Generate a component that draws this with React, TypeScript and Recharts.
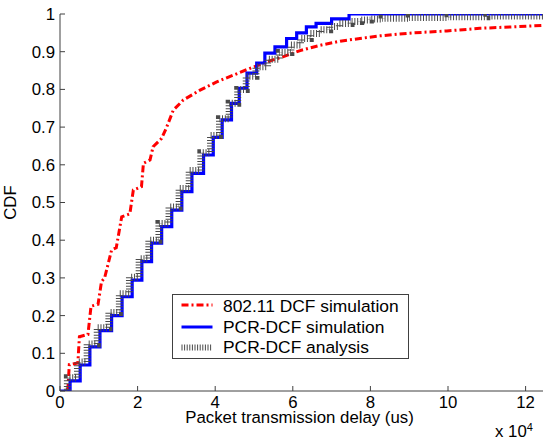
import React from 'react';
import { LineChart, Line, XAxis, YAxis, Legend } from 'recharts';

const FONT = '"Liberation Sans", Arial, Helvetica, sans-serif';

const xTicks = [0, 2, 4, 6, 8, 10, 12];
const yTicks = [0, 0.1, 0.2, 0.3, 0.4, 0.5, 0.6, 0.7, 0.8, 0.9, 1];

const seriesNames = ['802.11 DCF simulation', 'PCR-DCF simulation', 'PCR-DCF analysis'];

// 802.11 DCF simulation (x in units of 10^4 us)
const dcfX = [0.2, 0.24, 0.46, 0.5, 0.72, 0.8, 0.98, 1.07, 1.15, 1.33, 1.45, 1.59, 1.8, 1.89, 2.1, 2.15, 2.32, 2.4, 2.62, 2.75, 2.92, 3.18, 3.61, 4.04, 4.47, 4.9, 5.33, 5.76, 6.19, 6.7, 7.22, 7.73, 8.25, 9.1, 9.97, 10.82, 11.68, 12.5];
const dcfY = [0, 0.07, 0.074, 0.144, 0.15, 0.225, 0.23, 0.29, 0.3, 0.374, 0.38, 0.462, 0.47, 0.533, 0.542, 0.604, 0.613, 0.648, 0.67, 0.7, 0.745, 0.772, 0.798, 0.82, 0.838, 0.856, 0.873, 0.887, 0.903, 0.917, 0.928, 0.935, 0.942, 0.95, 0.955, 0.962, 0.966, 0.97];

// PCR-DCF simulation (step function)
const simX = [0, 0.26, 0.52, 0.77, 1.03, 1.33, 1.6, 1.86, 2.11, 2.36, 2.62, 2.88, 3.14, 3.4, 3.7, 3.95, 4.18, 4.42, 4.62, 4.82, 5.07, 5.28, 5.54, 5.84, 6.1, 6.35, 6.6, 7.0, 7.45, 12.5];
const simY = [0, 0.027, 0.069, 0.117, 0.16, 0.2, 0.25, 0.294, 0.343, 0.392, 0.436, 0.48, 0.529, 0.577, 0.626, 0.673, 0.719, 0.763, 0.803, 0.843, 0.87, 0.896, 0.913, 0.935, 0.95, 0.966, 0.975, 0.987, 1.0, 1.0];

// PCR-DCF analysis (step function)
const anaX = [0.15, 0.19, 0.45, 0.7, 0.96, 1.26, 1.53, 1.79, 2.04, 2.29, 2.55, 2.81, 3.07, 3.33, 3.63, 3.88, 4.11, 4.36, 4.58, 4.8, 5.05, 5.35, 5.65, 5.95, 6.2, 6.45, 6.7, 6.95, 7.2, 7.5, 7.75, 8.0, 8.3, 9.0, 10.0, 11.0, 12.5];
const anaY = [0, 0.035, 0.077, 0.125, 0.168, 0.208, 0.258, 0.302, 0.351, 0.4, 0.444, 0.488, 0.537, 0.585, 0.632, 0.678, 0.722, 0.763, 0.8, 0.835, 0.86, 0.88, 0.898, 0.918, 0.935, 0.948, 0.958, 0.967, 0.975, 0.98, 0.984, 0.987, 0.989, 0.991, 0.993, 0.995, 0.996];

const rows = (xs: number[], ys: number[]) => xs.map((x, i) => ({ x, y: ys[i] }));

const dcfData = rows(dcfX, dcfY);
const simData = rows(simX, simY);
const anaData = rows(anaX, anaY);

const AXIS_COLOR = '#404040';
const AXIS_FONT = 16.8;
const tickStyle = { fill: '#000', fontSize: AXIS_FONT, fontFamily: FONT };

const HATCH_COLOR = '#4a4a4a';

const LegendBox = () => (
  <svg width={238} height={66} style={{ display: 'block' }}>
    <rect x={0.5} y={0.5} width={236} height={64} fill="#fff" stroke={AXIS_COLOR} strokeWidth={1} />
    <line x1={9.5} y1={11} x2={40.5} y2={11} stroke="#ff0000" strokeWidth={3} strokeDasharray="7 3 2 3" />
    <line x1={9.5} y1={33} x2={40.5} y2={33} stroke="#0000ff" strokeWidth={3} />
    <line x1={9.5} y1={53.5} x2={40.5} y2={53.5} stroke={HATCH_COLOR} strokeWidth={6} strokeDasharray="1 1.6" />
    <text x={51} y={17.7} fontSize={17.4} fontFamily={FONT} fill="#000">{seriesNames[0]}</text>
    <text x={51} y={39.3} fontSize={17.4} fontFamily={FONT} fill="#000">{seriesNames[1]}</text>
    <text x={51} y={58.9} fontSize={17.4} fontFamily={FONT} fill="#000">{seriesNames[2]}</text>
  </svg>
);

const XLabel = (props: any) => {
  const vb = props.viewBox || { x: 60, y: 391, width: 485, height: 48 };
  const cx = vb.x + vb.width / 2 - 3;
  return (
    <g>
      <text x={cx} y={vb.y + 32} textAnchor="middle" fontSize={AXIS_FONT} fontFamily={FONT} fill="#000">
        Packet transmission delay (us)
      </text>
      <text x={vb.x + vb.width - 50} y={vb.y + 46} fontSize={AXIS_FONT} fontFamily={FONT} fill="#000">
        x 10
        <tspan fontSize={11} dy={-6}>4</tspan>
      </text>
    </g>
  );
};

const YLabel = (props: any) => {
  const vb = props.viewBox || { x: 0, y: 14, width: 60, height: 377 };
  const cy = vb.y + vb.height / 2;
  return (
    <text
      x={16}
      y={cy}
      transform={`rotate(-90 16 ${cy})`}
      textAnchor="middle"
      fontSize={AXIS_FONT}
      fontFamily={FONT}
      fill="#000"
    >
      CDF
    </text>
  );
};

const NoTick = () => <g />;

export default function App() {
  return (
    <div
      style={{
        position: 'absolute',
        left: 0,
        top: 0,
        width: 543,
        height: 439,
        overflow: 'hidden',
        background: '#fff',
      }}
    >
      <LineChart width={560} height={439} margin={{ top: 14, right: 15, bottom: 0, left: 0 }}>
        <XAxis
          xAxisId={0}
          type="number"
          dataKey="x"
          domain={[0, 12.5]}
          ticks={xTicks}
          allowDataOverflow
          height={48}
          stroke={AXIS_COLOR}
          tickSize={-5}
          tickMargin={10}
          tick={tickStyle}
          tickFormatter={(v: number) => String(v)}
          interval={0}
          label={<XLabel />}
        />
        <XAxis
          xAxisId="top"
          orientation="top"
          type="number"
          dataKey="x"
          domain={[0, 12.5]}
          ticks={xTicks}
          allowDataOverflow
          height={0}
          stroke={AXIS_COLOR}
          tickSize={-5}
          tick={<NoTick />}
          interval={0}
        />
        <YAxis
          yAxisId={0}
          type="number"
          domain={[0, 1]}
          ticks={yTicks}
          allowDataOverflow
          width={60}
          stroke={AXIS_COLOR}
          tickSize={-5}
          tickMargin={10}
          tick={tickStyle}
          tickFormatter={(v: number) => String(v)}
          interval={0}
          label={<YLabel />}
        />
        <YAxis
          yAxisId="right"
          orientation="right"
          type="number"
          domain={[0, 1]}
          ticks={yTicks}
          allowDataOverflow
          width={0}
          stroke={AXIS_COLOR}
          tickSize={-5}
          tick={<NoTick />}
          interval={0}
        />
        <Legend
          layout="vertical"
          align="center"
          verticalAlign="middle"
          content={<LegendBox />}
          wrapperStyle={{ position: 'absolute', left: 171.5, top: 294, width: 238, height: 66, bottom: 'auto', right: 'auto' }}
        />
        <Line
          data={dcfData}
          dataKey="y"
          name={seriesNames[0]}
          type="linear"
          stroke="#ff0000"
          strokeWidth={3}
          strokeDasharray="7 3 2 3"
          dot={false}
          activeDot={false}
          isAnimationActive={false}
        />
        <Line
          data={simData}
          dataKey="y"
          name={seriesNames[1]}
          type="stepAfter"
          stroke="#0000ff"
          strokeWidth={3.2}
          dot={false}
          activeDot={false}
          isAnimationActive={false}
        />
        <Line
          data={anaData}
          dataKey="y"
          name={seriesNames[2]}
          type="stepAfter"
          stroke={HATCH_COLOR}
          strokeWidth={7}
          strokeDasharray="1 1.8"
          dot={false}
          activeDot={false}
          isAnimationActive={false}
        />
      </LineChart>
    </div>
  );
}
